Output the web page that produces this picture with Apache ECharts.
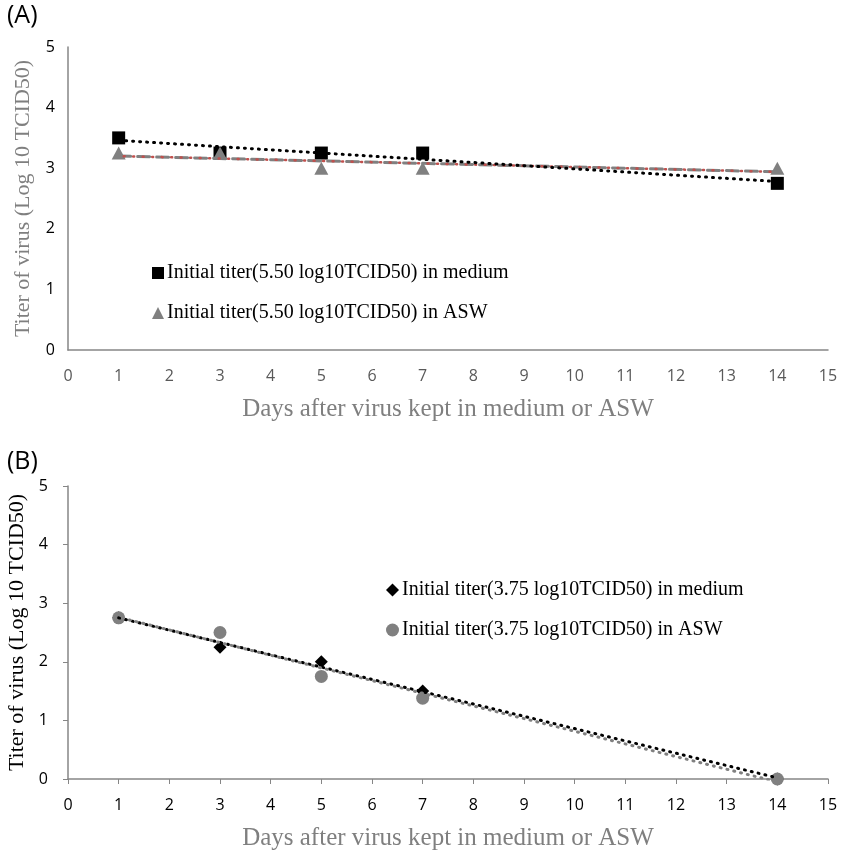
<!DOCTYPE html>
<html>
<head>
    <meta charset="UTF-8">
    <title>Titer of virus</title>
    <script src="https://cdn.jsdelivr.net/npm/echarts@6/dist/echarts.min.js"></script>
</head>
<body style="margin: 0; background: #fff;">
<div id="container" style="width: 843px; height: 853px;"></div>
<script type="text/javascript">
    // data
    var days = [1, 3, 5, 7, 14];
    var mediumA = [3.5, 3.25, 3.25, 3.25, 2.75];
    var aswA = [3.25, 3.25, 3.0, 3.0, 3.0];
    var mediumB = [2.75, 2.25, 2.0, 1.5, 0];
    var aswB = [2.75, 2.5, 1.75, 1.38, 0];
    // linear trendline end points (day 1, day 14)
    var trendDays = [1, 14];
    var trendMediumA = [3.46, 2.78];
    var trendAswA = [3.2, 2.94];
    var trendMediumB = [2.75, 0.02];
    var trendAswB = [2.76, -0.05];
    var xTicks = [0, 15];
    var yTicks = [0, 5];

    var nameMedA = 'Initial titer(5.50 log10TCID50) in medium';
    var nameAswA = 'Initial titer(5.50 log10TCID50) in ASW';
    var nameMedB = 'Initial titer(3.75 log10TCID50) in medium';
    var nameAswB = 'Initial titer(3.75 log10TCID50) in ASW';

    function pairs(xs, ys) {
        var out = [];
        for (var i = 0; i < xs.length; i++) out.push([xs[i], ys[i]]);
        return out;
    }

    var serif = '"Liberation Serif", "DejaVu Serif", serif';
    var sans = '"Open Sans", "Noto Sans", sans-serif';
    var axisGray = '#868686';

    function xAxisOpt(idx, showTicks, labelColor) {
        return {
            gridIndex: idx, type: 'value', min: xTicks[0], max: xTicks[1], interval: 1,
            name: 'Days after virus kept in medium or ASW',
            nameLocation: 'middle', nameGap: 47,
            nameTextStyle: {fontFamily: serif, fontSize: 25, color: '#7f7f7f'},
            axisLine: {show: true, lineStyle: {color: axisGray, width: 1.5}},
            axisTick: {show: showTicks, length: 5, lineStyle: {color: axisGray}},
            axisLabel: {fontFamily: sans, fontSize: 16, color: labelColor, margin: 18},
            splitLine: {show: false}
        };
    }
    function yAxisOpt(idx, showTicks, titleColor) {
        return {
            gridIndex: idx, type: 'value', min: yTicks[0], max: yTicks[1], interval: 1,
            name: 'Titer of virus (Log 10 TCID50)',
            nameLocation: 'middle', nameGap: 34,
            nameTextStyle: {fontFamily: serif, fontSize: 22, color: titleColor},
            axisLine: {show: true, lineStyle: {color: axisGray, width: 1.5}},
            axisTick: {show: showTicks, length: 5, lineStyle: {color: axisGray}},
            axisLabel: {fontFamily: sans, fontSize: 16, color: '#000', margin: showTicks ? 20 : 13},
            splitLine: {show: false}
        };
    }
    function trend(name, idx, ys, color, type, width, offset, z) {
        return {
            name: name, type: 'line', xAxisIndex: idx, yAxisIndex: idx,
            data: pairs(trendDays, ys), symbol: 'none', silent: true, z: z,
            lineStyle: {color: color, width: width, type: type, dashOffset: offset || 0, cap: 'round'}
        };
    }

    var myChart = echarts.init(document.getElementById('container'));
    var option = {
        animation: false,
        grid: [
            {left: 68, right: 15, top: 47, height: 303, outerBoundsMode: 'none'},
            {left: 68, right: 15, top: 486, height: 293, outerBoundsMode: 'none'}
        ],
        graphic: [
            {type: 'text', left: 7, top: 3, style: {text: '(A)', font: '25px ' + sans, fill: '#000'}},
            {type: 'text', left: 7, top: 449, style: {text: '(B)', font: '25px ' + sans, fill: '#000'}}
        ],
        legend: [
            {
                data: [{name: nameMedA, icon: 'rect'}, {name: nameAswA, icon: 'triangle'}],
                orient: 'vertical', left: 147, top: 258, itemGap: 20,
                itemWidth: 12, itemHeight: 12, selectedMode: false,
                textStyle: {fontFamily: serif, fontSize: 20, color: '#000', padding: [0, 0, 0, -2]}
            },
            {
                data: [{name: nameMedB, icon: 'diamond'}, {name: nameAswB, icon: 'circle'}],
                orient: 'vertical', left: 381, top: 575, itemGap: 20,
                itemWidth: 13, itemHeight: 13, selectedMode: false,
                textStyle: {fontFamily: serif, fontSize: 20, color: '#000', padding: [0, 0, 0, -2]}
            }
        ],
        xAxis: [xAxisOpt(0, false, '#595959'), xAxisOpt(1, true, '#000')],
        yAxis: [yAxisOpt(0, false, '#7f7f7f'), yAxisOpt(1, true, '#000')],
        series: [
            {
                name: nameMedA, type: 'scatter', xAxisIndex: 0, yAxisIndex: 0,
                data: pairs(days, mediumA), symbol: 'rect', symbolSize: 13,
                itemStyle: {color: '#000', opacity: 1}, z: 2
            },
            {
                name: nameAswA, type: 'scatter', xAxisIndex: 0, yAxisIndex: 0,
                data: pairs(days, aswA), symbol: 'triangle', symbolSize: [14, 13],
                itemStyle: {color: '#808080', opacity: 1}, z: 2
            },
            trend('trendAswA', 0, trendAswA, '#808080', [12, 7], 3, 0, 3),
            trend('trendAswA2', 0, trendAswA, '#c0504d', [1, 8.5], 2.5, -14.5, 4),
            trend('trendMedA', 0, trendMediumA, '#000', [1, 6], 3, 0, 5),
            {
                name: nameMedB, type: 'scatter', xAxisIndex: 1, yAxisIndex: 1,
                data: pairs(days, mediumB), symbol: 'diamond', symbolSize: 13,
                itemStyle: {color: '#000', opacity: 1}, z: 2
            },
            {
                name: nameAswB, type: 'scatter', xAxisIndex: 1, yAxisIndex: 1,
                data: pairs(days, aswB), symbol: 'circle', symbolSize: 13,
                itemStyle: {color: '#808080', opacity: 1}, z: 2
            },
            trend('trendMedB', 1, trendMediumB, '#000', [1, 6], 3, 0, 3),
            trend('trendAswB', 1, trendAswB, '#808080', [1, 6], 3, 3, 4)
        ]
    };
    myChart.setOption(option);
</script>
</body>
</html>
